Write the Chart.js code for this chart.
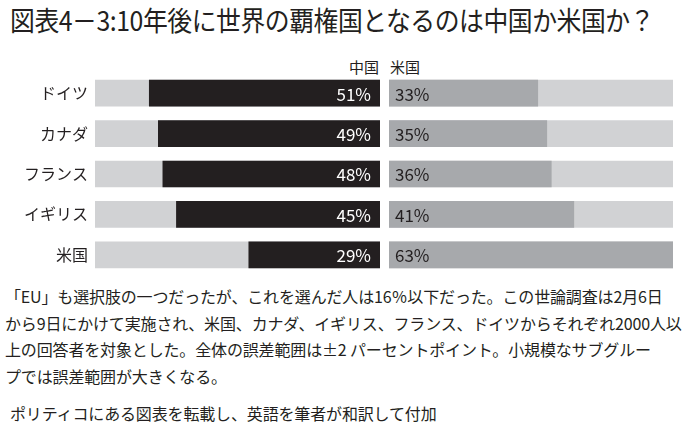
<!DOCTYPE html>
<html>
<head>
<meta charset="utf-8">
<script src="https://cdn.jsdelivr.net/npm/chart.js@4.4.1/dist/chart.umd.min.js"></script>
<style>
  body { margin: 0; background: #fff; width: 700px; height: 435px; overflow: hidden; position: relative;
         font-family: "Noto Sans CJK JP", sans-serif; color: #231f20; }
  #titulo { position: absolute; left: 10px; top: 0px; font-size: 27px; white-space: nowrap; letter-spacing: -0.5px;
            transform: scaleX(0.92); transform-origin: left top; }
  .leyenda { position: absolute; top: 56px; font-size: 15px; white-space: nowrap; }
  #boxIzq { position: absolute; left: 0; top: 73px; width: 380px; height: 202px; }
  #boxDer { position: absolute; left: 389px; top: 73px; width: 284px; height: 202px; }
  .nota { position: absolute; left: 5px; font-size: 16px; line-height: 26.5px; white-space: nowrap; letter-spacing: -0.15px; }
</style>
</head>
<body>
<div id="titulo">図表4－3:10年後に世界の覇権国となるのは中国か米国か？</div>
<div class="leyenda" style="left:349px">中国</div>
<div class="leyenda" style="left:390px">米国</div>
<div id="boxIzq"><canvas id="graficoChina"></canvas></div>
<div id="boxDer"><canvas id="graficoEEUU"></canvas></div>
<div class="nota" style="top:283px">「EU」も選択肢の一つだったが、これを選んだ人は16％以下だった。この世論調査は2月6日<br>から9日にかけて実施され、米国、カナダ、イギリス、フランス、ドイツからそれぞれ2000人以<br>上の回答者を対象とした。全体の誤差範囲は±2 パーセントポイント。小規模なサブグルー<br>プでは誤差範囲が大きくなる。</div>
<div class="nota" style="top:400px; left:10px">ポリティコにある図表を転載し、英語を筆者が和訳して付加</div>

<script>
// DATOS
const paises = ['ドイツ', 'カナダ', 'フランス', 'イギリス', '米国'];
const valoresChina = [51, 49, 48, 45, 29];
const valoresEEUU = [33, 35, 36, 41, 63];
const escalaMax = 63;

const fuenteNum = '"Noto Sans CJK JP", "Roboto", sans-serif';

// Plugin para escribir los porcentajes dentro de las barras
function etiquetas(color, lado) {
    return {
        id: 'etiquetas' + lado,
        afterDatasetsDraw(chart) {
            const ctx = chart.ctx;
            const meta = chart.getDatasetMeta(0);
            ctx.save();
            ctx.font = '17px ' + fuenteNum;
            ctx.fillStyle = color;
            ctx.textBaseline = 'middle';
            meta.data.forEach((bar, i) => {
                const texto = chart.data.datasets[0].data[i] + '%';
                if (lado === 'izq') {
                    ctx.textAlign = 'right';
                    ctx.fillText(texto, bar.base - 9, bar.y + 1);
                } else {
                    ctx.textAlign = 'left';
                    ctx.fillText(texto, bar.base + 6, bar.y + 1);
                }
            });
            ctx.restore();
        }
    };
}

function crearGrafico(id, valores, colorBarra, colorTexto, lado) {
    const ctx = document.getElementById(id);
    const ejeY = lado === 'izq' ? {
        grid: { display: false, drawTicks: false },
        border: { display: false },
        ticks: { color: '#231f20', padding: 7, font: { family: '"Noto Sans CJK JP"', size: 16 } },
        afterFit(axis) {
            // ancho fijo y sin relleno arriba/abajo para que las filas ocupen todo el alto
            axis.width = 95;
            axis.paddingTop = 0;
            axis.paddingBottom = 0;
        }
    } : { display: false };

    return new Chart(ctx, {
        type: 'bar',
        data: {
            labels: paises,
            datasets: [
                { data: valores, backgroundColor: colorBarra, order: 1 },
                { data: paises.map(() => escalaMax), backgroundColor: '#d1d2d4', order: 2 }
            ]
        },
        options: {
            indexAxis: 'y',
            responsive: true,
            maintainAspectRatio: false,
            animation: false,
            grouped: false,
            barThickness: 26,
            layout: { padding: 0 },
            plugins: { legend: { display: false }, tooltip: { enabled: false } },
            scales: {
                x: { display: false, min: 0, max: escalaMax, reverse: lado === 'izq' },
                y: ejeY
            }
        },
        plugins: [etiquetas(colorTexto, lado)]
    });
}

document.addEventListener("DOMContentLoaded", () => {
    crearGrafico('graficoChina', valoresChina, '#231f20', '#ffffff', 'izq');
    crearGrafico('graficoEEUU', valoresEEUU, '#a7a9ac', '#231f20', 'der');
});
</script>
</body>
</html>
